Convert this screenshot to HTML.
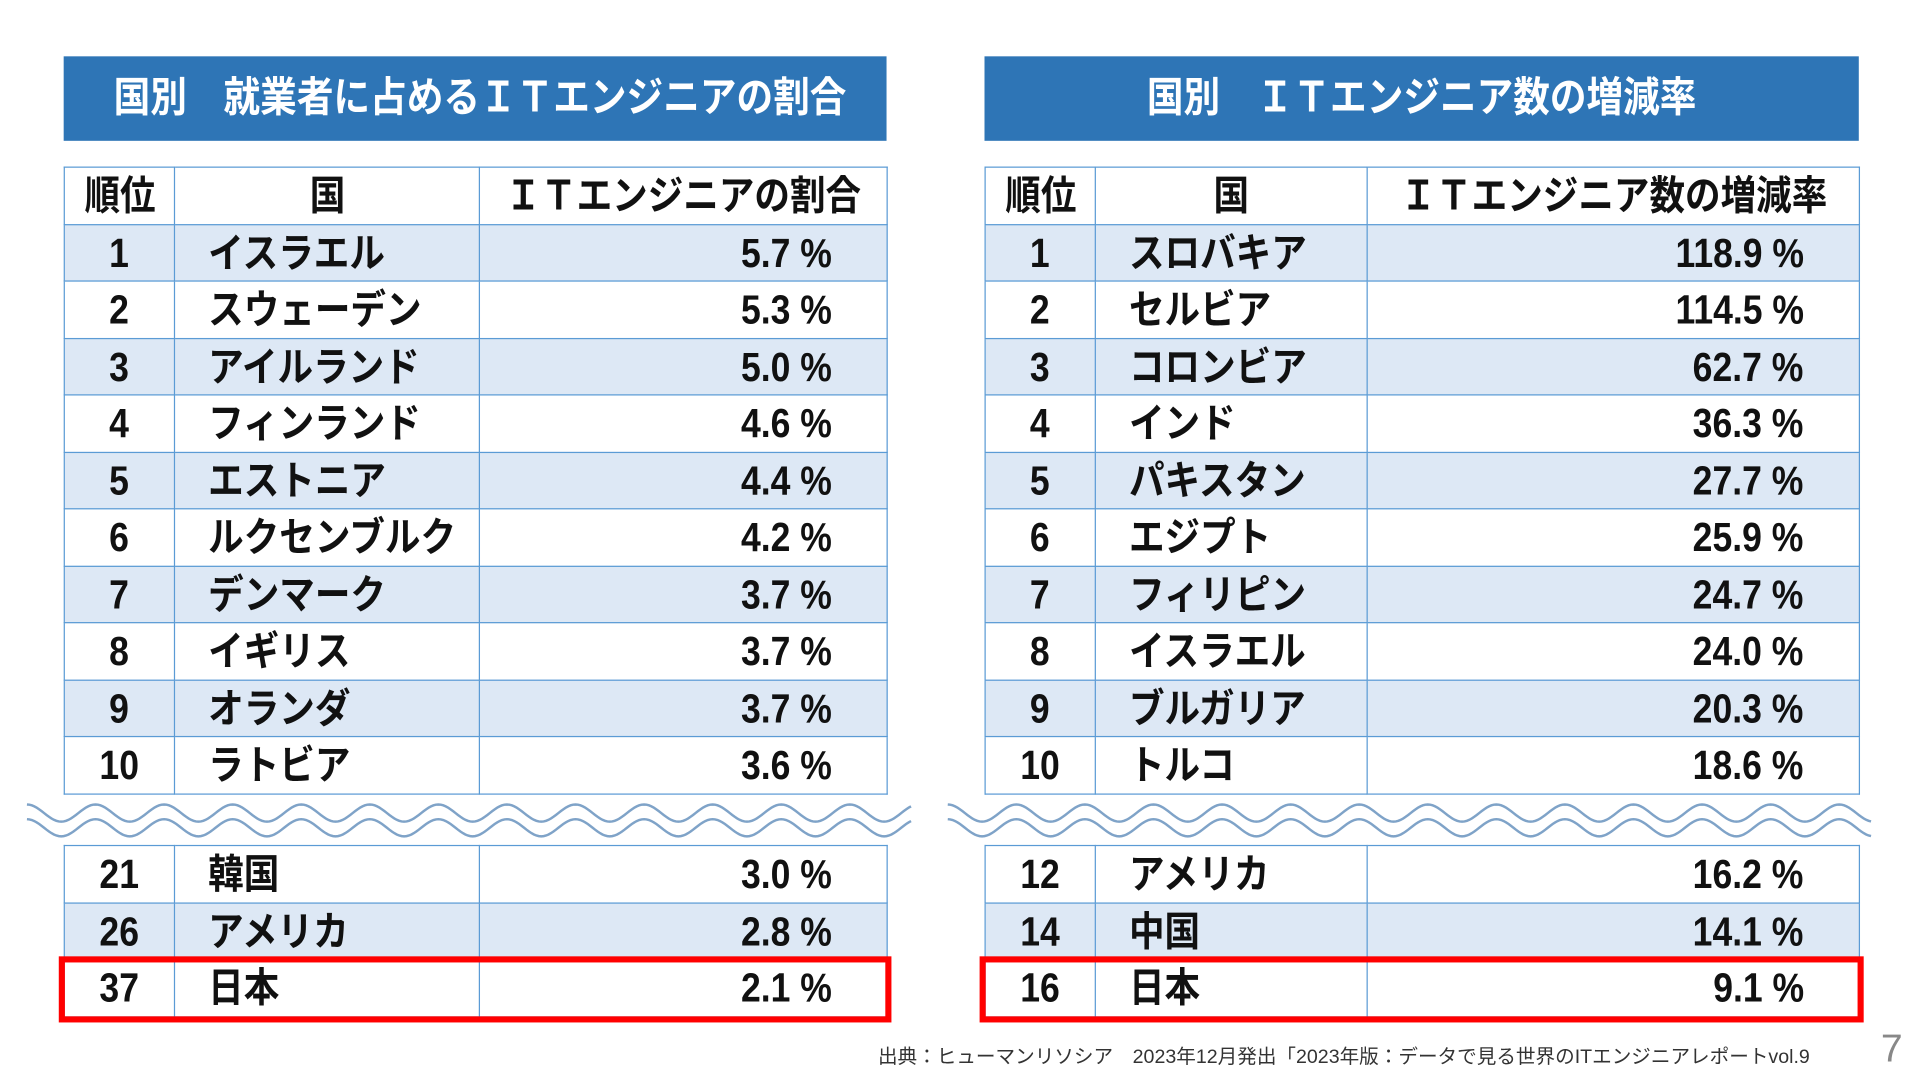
<!DOCTYPE html>
<html><head><meta charset="utf-8">
<style>
html,body{margin:0;padding:0;background:#fff;width:1920px;height:1080px;overflow:hidden}
#stage{position:absolute;left:0;top:0;width:1568px;height:882px;transform:scale(1.2245);transform-origin:0 0;font-family:"Liberation Sans","Noto Sans CJK JP",sans-serif;font-weight:bold;color:#111}
.hdr{position:absolute;top:46px;height:69px;background:#2e75b6;color:#fff;font-size:34px;line-height:69px;text-align:center;white-space:nowrap}
.hdr span,.c span{display:inline-block;transform:scaleX(0.88);transform-origin:center}
table{position:absolute;border-collapse:collapse;table-layout:fixed}
td{border:1.5px solid #5b9bd5;height:45.5px;padding:0;font-size:33px;line-height:45px;white-space:nowrap;overflow:visible}
tr.b td{background:#dde8f5}
td.r{text-align:center}
td.n{text-align:left;padding-left:27px}
td.v{text-align:right;padding-right:45px}
.n span{transform-origin:left center}
.v span{transform-origin:right center}
.red{position:absolute;border:5px solid #f00;box-sizing:border-box}
.foot{position:absolute;left:717px;top:849px;font-size:16px;font-weight:normal;color:#333;white-space:nowrap}
.pg{position:absolute;left:1536px;top:838px;font-size:32px;font-weight:normal;color:#888}
</style></head><body>
<div id="stage">
<div class="hdr" style="left:52px;width:672px"><span>国別　就業者に占めるＩＴエンジニアの割合</span></div>
<div class="hdr" style="left:804px;width:714px"><span>国別　ＩＴエンジニア数の増減率</span></div>
<table id="lt" style="left:52px;top:136px;width:672px"></table>
<table id="lb" style="left:52px;top:690px;width:672px"></table>
<table id="rt" style="left:804px;top:136px;width:714px"></table>
<table id="rb" style="left:804px;top:690px;width:714px"></table>
<svg style="position:absolute;left:0;top:650px" width="1568" height="40">
<path id="w1" fill="none" stroke="#7fa3c8" stroke-width="2"></path>
<path id="w2" fill="none" stroke="#7fa3c8" stroke-width="2"></path>
<path id="w3" fill="none" stroke="#7fa3c8" stroke-width="2"></path>
<path id="w4" fill="none" stroke="#7fa3c8" stroke-width="2"></path>
</svg>
<div class="red" style="left:48px;top:781px;width:680px;height:54px"></div>
<div class="red" style="left:800px;top:781px;width:722px;height:54px"></div>
<div class="foot">出典：ヒューマンリソシア　2023年12月発出「2023年版：データで見る世界のITエンジニアレポートvol.9</div>
<div class="pg">7</div>
</div>
<script>
const leftRanks=[1,2,3,4,5,6,7,8,9,10];
const leftNames=["イスラエル","スウェーデン","アイルランド","フィンランド","エストニア","ルクセンブルク","デンマーク","イギリス","オランダ","ラトビア"];
const leftValues=[5.7,5.3,5.0,4.6,4.4,4.2,3.7,3.7,3.7,3.6];
const leftRanks2=[21,26,37];
const leftNames2=["韓国","アメリカ","日本"];
const leftValues2=[3.0,2.8,2.1];
const rightRanks=[1,2,3,4,5,6,7,8,9,10];
const rightNames=["スロバキア","セルビア","コロンビア","インド","パキスタン","エジプト","フィリピン","イスラエル","ブルガリア","トルコ"];
const rightValues=[118.9,114.5,62.7,36.3,27.7,25.9,24.7,24.0,20.3,18.6];
const rightRanks2=[12,14,16];
const rightNames2=["アメリカ","中国","日本"];
const rightValues2=[16.2,14.1,9.1];

function build(id,widths,head,ranks,names,vals,startBlue){
  const t=document.getElementById(id);
  const cg=document.createElement('colgroup');
  widths.forEach(w=>{const c=document.createElement('col');c.style.width=w+'px';cg.appendChild(c);});
  t.appendChild(cg);
  if(head){
    const tr=document.createElement('tr');
    
    
    head.forEach(h=>{const td=document.createElement('td');td.className='c r';td.innerHTML='<span>'+h+'</span>';
      
      
      tr.appendChild(td);});
    t.appendChild(tr);
  }
  ranks.forEach((r,i)=>{
    const tr=document.createElement('tr');
    if((i%2===0)===startBlue) tr.className='b';
    
    
    const a=document.createElement('td');a.className='c r';a.innerHTML='<span>'+r+'</span>';
    
    
    const b=document.createElement('td');b.className='c n';b.innerHTML='<span>'+names[i]+'</span>';
    
    
    const c=document.createElement('td');c.className='c v';c.innerHTML='<span>'+vals[i].toFixed(1)+' %</span>';
    
    
    tr.appendChild(a);tr.appendChild(b);tr.appendChild(c);t.appendChild(tr);
  });
}
build('lt',[90,249,333],['順位','国','ＩＴエンジニアの割合'],leftRanks,leftNames,leftValues,true);
build('lb',[90,249,333],null,leftRanks2,leftNames2,leftValues2,false);
build('rt',[90,222,402],['順位','国','ＩＴエンジニア数の増減率'],rightRanks,rightNames,rightValues,true);
build('rb',[90,222,402],null,rightRanks2,rightNames2,rightValues2,false);

function wave(id,x0,x1,y){
  let d='';
  for(let x=x0;x<=x1;x+=2){const yy=y-7*Math.cos((x-x0)/56*2*Math.PI);d+=(x===x0?'M':'L')+x+' '+yy.toFixed(2)+' ';}
  document.getElementById(id).setAttribute('d',d);
}
wave('w1',22,744,14);wave('w2',22,744,26);
wave('w3',774,1528,14);wave('w4',774,1528,26);
</script>
</body></html>
